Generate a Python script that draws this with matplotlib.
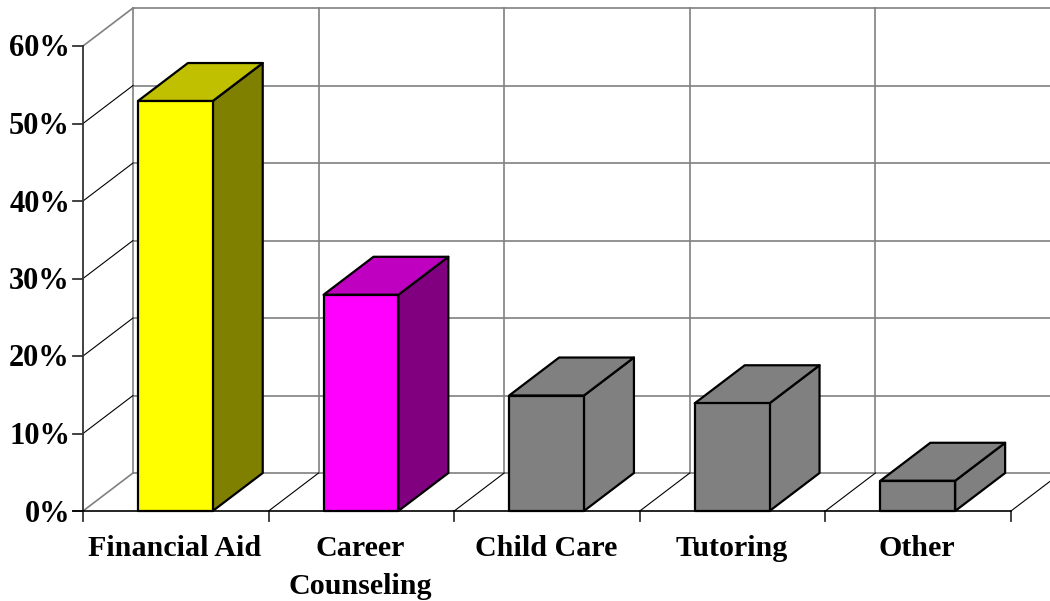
import numpy as np
import matplotlib
matplotlib.use('Agg')
import matplotlib.pyplot as plt
from matplotlib.patches import Polygon

plt.rc('font', family='Liberation Serif', weight='bold')

categories = ['Financial Aid', 'Career\nCounseling', 'Child Care', 'Tutoring', 'Other']
values = [52.9, 27.9, 14.9, 13.9, 3.9]
tick_values = [0, 10, 20, 30, 40, 50, 60]
tick_labels = ['0%', '10%', '20%', '30%', '40%', '50%', '60%']
front_colors = ['#ffff00', '#ff00ff', '#808080', '#808080', '#808080']
top_colors = ['#c0c000', '#c000c0', '#808080', '#808080', '#808080']
side_colors = ['#808000', '#800080', '#808080', '#808080', '#808080']

W, H = 1050, 601
# depth of the fake 3d box, in data units
dx = 50 / 185.6
dy = 38 / 7.75
bar_left = 0.296
bar_width = 0.403

fig = plt.figure(figsize=(W / 100, H / 100), dpi=100)
ax = fig.add_axes([83 / W, 1 - 511 / H, 928 / W, 465 / H])
ax.set_xlim(0, 5)
ax.set_ylim(0, 60)
ax.axis('off')

grey_kw = dict(color='#808080', lw=1.2, clip_on=False, zorder=1)
thin_kw = dict(color='black', lw=0.8, clip_on=False, zorder=1)
dark_kw = dict(color='#333333', lw=1.3, clip_on=False, zorder=2)

# back wall grid
for t in tick_values:
    ax.plot([dx, 5 + dx], [t + dy, t + dy], **grey_kw)
for i in range(0, 5):
    ax.plot([i + dx, i + dx], [dy, 60 + dy], **grey_kw)

# side wall diagonals, only the top and bottom ones are grey
for t in tick_values:
    ax.plot([0, dx], [t, t + dy], **(grey_kw if t in (0, 60) else thin_kw))

# floor diagonals
for i in range(1, 6):
    ax.plot([i, i + dx], [0, dy], **thin_kw)

# bars
for i, v in enumerate(values):
    x0 = i + bar_left
    x1 = x0 + bar_width
    front = [(x0, 0), (x1, 0), (x1, v), (x0, v)]
    side = [(x1, 0), (x1 + dx, dy), (x1 + dx, v + dy), (x1, v)]
    top = [(x0, v), (x1, v), (x1 + dx, v + dy), (x0 + dx, v + dy)]
    for pts, c in [(side, side_colors[i]), (top, top_colors[i]), (front, front_colors[i])]:
        ax.add_patch(Polygon(pts, closed=True, facecolor=c, edgecolor='black',
                             lw=1.6, joinstyle='round', clip_on=False, zorder=3))

# axis lines
ax.plot([-0.054, 5], [0, 0], color='black', lw=1.2, clip_on=False, zorder=4)
ax.plot([0, 0], [0, 60], **dark_kw)

# ticks and labels
for t, lab in zip(tick_values, tick_labels):
    ax.plot([-0.054, 0], [t, t], **dark_kw)
    ax.annotate(lab, (0, t), xytext=(-13, -3), textcoords='offset pixels', ha='right',
                va='center', fontsize=22, annotation_clip=False)
for i in range(6):
    ax.plot([i, i], [0, -1.3], **dark_kw)
for i, c in enumerate(categories):
    ax.annotate(c, (i + 0.5, 0), xytext=(-1, -24), textcoords='offset pixels', ha='center',
                va='top', fontsize=21.6, linespacing=1.5, annotation_clip=False)

fig.savefig('out.png', dpi=100, facecolor='white')
